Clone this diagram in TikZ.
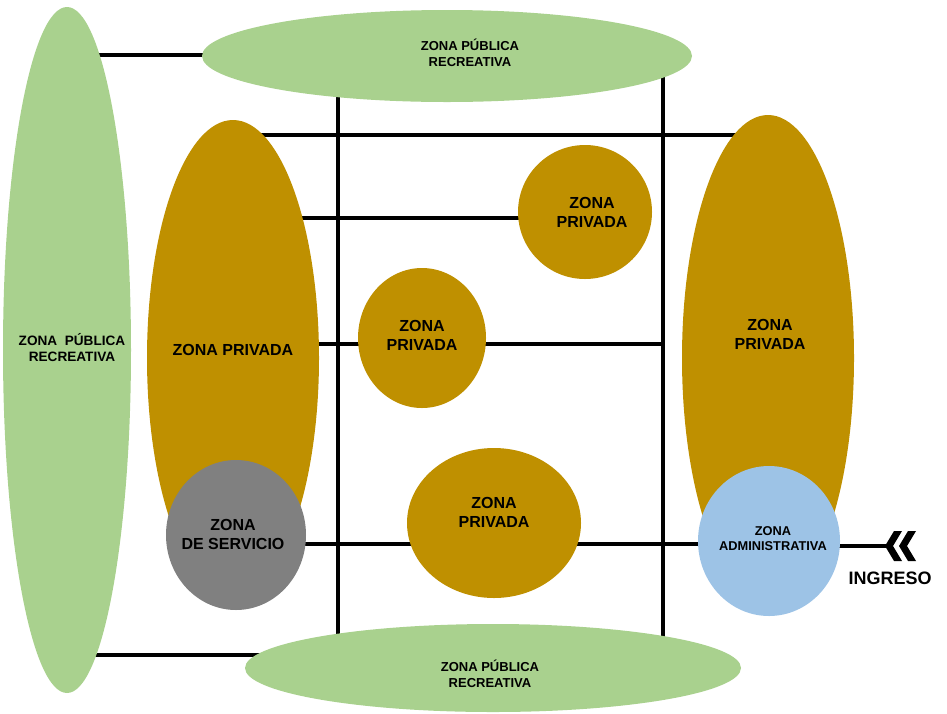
\documentclass[tikz,border=0pt]{standalone}
\usepackage{fontspec}
\setmainfont{Liberation Sans}
\usetikzlibrary{shapes.geometric}
\definecolor{pubgreen}{HTML}{A9D18E}
\definecolor{privbrown}{HTML}{BF9000}
\definecolor{servgrey}{HTML}{808080}
\definecolor{admblue}{HTML}{9DC3E6}
\pgfdeclarelayer{bglines}
\pgfsetlayers{bglines,main}
\begin{document}
\begin{tikzpicture}[x=1pt,y=-1pt,
  zone/.style={ellipse, inner sep=0pt, draw=none},
  pub/.style={zone, fill=pubgreen},
  priv/.style={zone, fill=privbrown},
  conn/.style={line width=4.5pt, draw=black},
  bigtxt/.style={align=center, font=\bfseries\fontsize{16}{19}\selectfont},
  pubtxt/.style={align=center, font=\bfseries\fontsize{13}{15.5}\selectfont},
  smalltxt/.style={align=center, font=\bfseries\fontsize{12.8}{15}\selectfont}]
\useasboundingbox (0,0) rectangle (947,713);
% shapes
\node[pub, minimum width=128pt, minimum height=686pt] (lg) at (67,350) {};
\node[pub, minimum width=490pt, minimum height=92pt] (tg) at (447,56) {};
\node[pub, minimum width=496pt, minimum height=88pt] (bg) at (493,668) {};
\node[priv, minimum width=172pt, minimum height=476pt] (lp) at (233,358) {};
\node[priv, minimum width=172pt, minimum height=486pt] (rp) at (768,358) {};
\node[priv, minimum width=134pt, minimum height=134pt] (tr) at (585,212) {};
\node[priv, minimum width=128pt, minimum height=140pt] (mc) at (422,338) {};
\node[priv, minimum width=174pt, minimum height=150pt] (bc) at (494,523) {};
\node[zone, fill=servgrey, minimum width=140pt, minimum height=150pt] (sv) at (236,535) {};
\node[zone, fill=admblue, minimum width=142pt, minimum height=150pt] (ad) at (769,541) {};
% texts
\node[pubtxt] (tgt) at (470,53) {ZONA PÚBLICA\\RECREATIVA};
\node[pubtxt] (bgt) at (490,674) {ZONA PÚBLICA\\RECREATIVA};
\node[pubtxt, font=\bfseries\fontsize{13.6}{16}\selectfont] (lgt) at (72,348) {ZONA\ \ PÚBLICA\\RECREATIVA};
\node[bigtxt] (lpt) at (233,350) {ZONA PRIVADA};
\node[bigtxt] (trt) at (592,212) {ZONA\\PRIVADA};
\node[bigtxt] (mct) at (422,335) {ZONA\\PRIVADA};
\node[bigtxt] (bct) at (494,512) {ZONA\\PRIVADA};
\node[bigtxt] (rpt) at (770,334) {ZONA\\PRIVADA};
\node[bigtxt] (svt) at (233,534) {ZONA\\DE SERVICIO};
\node[smalltxt] (adt) at (773,539) {ZONA\\ADMINISTRATIVA};
\node[align=center, font=\bfseries\fontsize{18}{21}\selectfont] (ingt) at (890,578) {INGRESO};
\coordinate (ing) at (889,546);
\coordinate (v2) at (663,344);
% chevrons
\fill (885,546) -- (894,531) -- (902,531) -- (893,546) -- (902,561) -- (894,561) -- cycle;
\fill (899,546) -- (908,531) -- (916,531) -- (907,546) -- (916,561) -- (908,561) -- cycle;
% connectors
\begin{pgfonlayer}{bglines}
\draw[conn] (lg.center |- 0,55) -- (tg.center |- 0,55);
\draw[conn] (lg.center |- 0,655) -- (bg.center |- 0,655);
\draw[conn] (tg.center -| 338,0) -- (bg.center -| 338,0);
\draw[conn] (tg.center -| 663,0) -- (bg.center -| 663,0);
\draw[conn] (lp.center |- 0,135) -- (rp.center |- 0,135);
\draw[conn] (lp.center |- 0,218) -- (tr.center |- 0,218);
\draw[conn] (lp.center |- v2) -- (v2);
\draw[conn] (sv.center |- 0,544) -- (ad.center |- 0,544);
\draw[conn] (ad.center |- ing) -- (ing);
\end{pgfonlayer}
\end{tikzpicture}
\end{document}
